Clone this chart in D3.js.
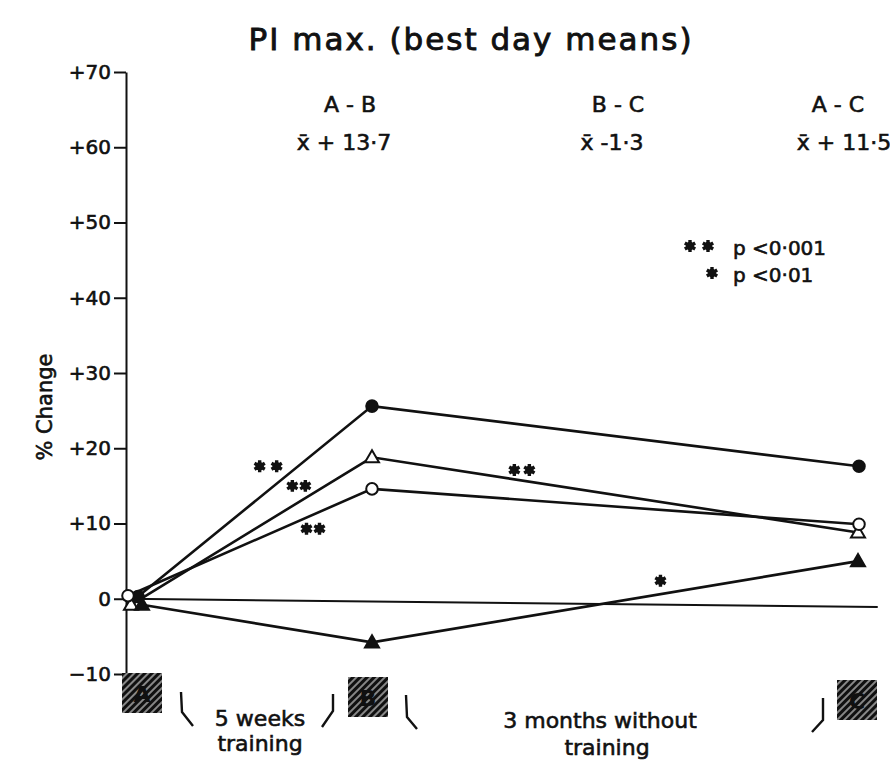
<!DOCTYPE html>
<html lang="en">
<head>
<meta charset="utf-8">
<title>PI max. (best day means)</title>
<script src="https://cdn.jsdelivr.net/npm/d3@7/dist/d3.min.js"></script>
<style>
  body { margin: 0; background: #fff; }
  svg text { font-family: "DejaVu Sans", sans-serif; fill: #111; stroke: #111; stroke-width: 0.6px; }
  .axis path, .axis line { stroke: #111; stroke-width: 2; }
  .axis text { font-size: 20px; stroke: #111; stroke-width: 0.6px; }
</style>
</head>
<body>
<script>
// stages of the study (weeks from start)
var stages = ["A", "B", "C"];
var stageWeeks = [0, 5, 18];

// % change per group at A, B, C
var filledCircle = [0.3, 25.6, 17.6];
var openTriangle = [-0.8, 18.8, 8.8];
var openCircle = [0.4, 14.6, 9.9];
var filledTriangle = [-0.8, -5.8, 5.0];

var yTicks = [-10, 0, 10, 20, 30, 40, 50, 60, 70];

// comparison labels above the plot
var compLabels = ["A - B", "B - C", "A - C"];
var compMeans = ["+ 13·7", "-1·3", "+ 11·5"];

// significance marks: week position, % value, number of asterisks
var sigWeeks = [2.8, 3.45, 3.75, 9.0, 12.7];
var sigValues = [17.6, 15.0, 9.3, 17.1, 2.4];
var sigCounts = [2, 2, 2, 2, 1];

// zero reference line (slightly tilted in the original)
var zeroWeeks = [-0.2, 18.5];
var zeroValues = [0, -1.1];

var width = 890, height = 768;

var svg = d3.select("body").append("svg")
    .attr("width", width)
    .attr("height", height);

var defs = svg.append("defs");
var pat = defs.append("pattern")
    .attr("id", "hatch")
    .attr("width", 5).attr("height", 5)
    .attr("patternUnits", "userSpaceOnUse")
    .attr("patternTransform", "rotate(45)");
pat.append("rect").attr("width", 5).attr("height", 5).attr("fill", "#101010");
pat.append("line").attr("x1", 1).attr("x2", 1).attr("y1", 0).attr("y2", 5)
    .attr("stroke", "#fff").attr("stroke-width", 1);

var xScale = d3.scaleLinear()
    .domain(stageWeeks)
    .range([136, 372, 859]);

var yScale = d3.scaleLinear()
    .domain([-10, 70])
    .range([674, 72]);

// Title
svg.append("text")
    .attr("x", 471).attr("y", 50)
    .attr("text-anchor", "middle")
    .style("font-size", "31px")
    .style("letter-spacing", "2px")
    .style("stroke-width", "0.9px")
    .text("PI max. (best day means)");

// Y axis
var yAxis = d3.axisLeft(yScale)
    .tickValues(yTicks)
    .tickSize(12)
    .tickSizeOuter(0)
    .tickPadding(3)
    .tickFormat(function(d) { return d > 0 ? "+" + d : (d < 0 ? "\u2212" + (-d) : "0"); });

svg.append("g")
    .attr("class", "axis")
    .attr("transform", "translate(126,0)")
    .call(yAxis);

svg.append("text")
    .attr("transform", "translate(52,407) rotate(-90)")
    .attr("text-anchor", "middle")
    .style("font-size", "21px")
    .text("% Change");

// zero line
svg.append("path")
    .datum(d3.zip(zeroWeeks, zeroValues))
    .attr("fill", "none")
    .attr("stroke", "#111")
    .attr("stroke-width", 2)
    .attr("d", d3.line()
        .x(function(d) { return xScale(d[0]); })
        .y(function(d) { return yScale(d[1]); }));

// series
var series = [
    { values: filledCircle, shape: "circle", fill: "#111", dx: [2, 0, 0] },
    { values: openTriangle, shape: "triangle", fill: "#fff", dx: [-5, 0, -1] },
    { values: openCircle, shape: "circle", fill: "#fff", dx: [-8, 0, 0] },
    { values: filledTriangle, shape: "triangle", fill: "#111", dx: [6, 0, -1] }
];

var line = d3.line()
    .x(function(d) { return xScale(d.w) + d.dx; })
    .y(function(d) { return yScale(d.v); });

series.forEach(function(s) {
    s.points = stages.map(function(st, i) {
        return { w: stageWeeks[i], v: s.values[i], dx: s.dx[i] };
    });
    svg.append("path")
        .datum(s.points)
        .attr("fill", "none")
        .attr("stroke", "#111")
        .attr("stroke-width", 2.6)
        .attr("d", line);
});

series.forEach(function(s) {
    var sym = d3.symbol()
        .type(s.shape === "circle" ? d3.symbolCircle : d3.symbolTriangle)
        .size(s.shape === "circle" ? 105 : 85);
    svg.selectAll(null)
        .data(s.points)
        .enter()
        .append("path")
        .attr("transform", function(d) {
            return "translate(" + (xScale(d.w) + d.dx) + "," + (yScale(d.v) + (s.shape === "triangle" ? 1 : 0)) + ")";
        })
        .attr("d", sym)
        .attr("fill", s.fill)
        .attr("stroke", "#111")
        .attr("stroke-width", 2);
});

// asterisks
var star = d3.symbol().type(d3.symbolAsterisk).size(100);
function drawStars(cx, cy, n, gap) {
    for (var k = 0; k < n; k++) {
        var x = cx + (k - (n - 1) / 2) * gap;
        svg.append("path")
            .attr("transform", "translate(" + x + "," + cy + ")")
            .attr("d", star)
            .attr("fill", "none")
            .attr("stroke", "#111")
            .attr("stroke-width", 3.4);
        svg.append("circle").attr("cx", x).attr("cy", cy).attr("r", 4.2).attr("fill", "#111");
    }
}
var gaps = [17, 13, 13, 15, 0];
sigWeeks.forEach(function(w, i) {
    drawStars(xScale(w), yScale(sigValues[i]), sigCounts[i], gaps[i]);
});

// legend
drawStars(699, 246, 2, 18);
drawStars(712, 273, 1, 0);
svg.append("text").attr("x", 733).attr("y", 255).style("font-size", "20px").text("p <0·001");
svg.append("text").attr("x", 733).attr("y", 282).style("font-size", "20px").text("p <0·01");

// comparison labels
var compX = [350, 618, 838];
compLabels.forEach(function(t, i) {
    svg.append("text")
        .attr("x", compX[i]).attr("y", 112)
        .attr("text-anchor", "middle")
        .style("font-size", "22px")
        .text(t);
    svg.append("text")
        .attr("x", compX[i] - 6 + (i === 2 ? 12 : 0)).attr("y", 150)
        .attr("text-anchor", "middle")
        .style("font-size", "22px")
        .text("x\u0304 " + compMeans[i]);
});

// stage boxes
var boxX = [142, 368, 857];
var boxY = [673, 677, 680];
stages.forEach(function(st, i) {
    svg.append("rect")
        .attr("x", boxX[i] - 20).attr("y", boxY[i])
        .attr("width", 40).attr("height", 40)
        .attr("fill", "url(#hatch)");
    svg.append("text")
        .attr("x", boxX[i]).attr("y", boxY[i] + 29)
        .attr("text-anchor", "middle")
        .style("font-size", "22px")
        .style("font-weight", "bold")
        .style("fill", "#101010")
        .style("stroke", "none")
        .text(st);
});

// brackets
function bracket(pts) {
    svg.append("path")
        .attr("d", d3.line()(pts))
        .attr("fill", "none")
        .attr("stroke", "#111")
        .attr("stroke-width", 2.4);
}
bracket([[181, 692], [182, 712], [193, 726]]);
bracket([[333, 694], [333, 711], [322, 727]]);
bracket([[406, 695], [407, 717], [417, 729]]);
bracket([[823, 698], [823, 720], [812, 732]]);

svg.append("text").attr("x", 260).attr("y", 726).attr("text-anchor", "middle")
    .style("font-size", "22px").text("5 weeks");
svg.append("text").attr("x", 260).attr("y", 751).attr("text-anchor", "middle")
    .style("font-size", "22px").text("training");
svg.append("text").attr("x", 600).attr("y", 728).attr("text-anchor", "middle")
    .style("font-size", "22px").text("3 months without");
svg.append("text").attr("x", 607).attr("y", 755).attr("text-anchor", "middle")
    .style("font-size", "22px").text("training");
</script>
</body>
</html>
